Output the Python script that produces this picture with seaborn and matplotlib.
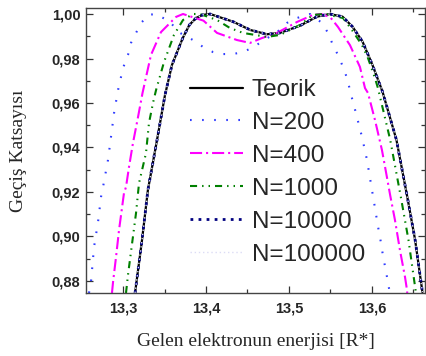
import matplotlib
matplotlib.use("Agg")
import matplotlib.pyplot as plt
import seaborn as sns
from matplotlib.ticker import FixedLocator, FuncFormatter, MultipleLocator

# ---------------- data ----------------
teorik_x = [13.3145, 13.3229, 13.3300, 13.3410, 13.3506, 13.3590, 13.3720, 13.3800, 13.3880,
            13.3960, 13.4050, 13.4330, 13.4535, 13.4735, 13.4890, 13.5130, 13.5337, 13.5490,
            13.5645, 13.5765, 13.5886, 13.6006, 13.6127, 13.6295, 13.6428, 13.6520, 13.6608]
teorik_y = [0.8746, 0.8984, 0.9209, 0.9434, 0.9636, 0.9771, 0.9892, 0.9951, 0.9982,
            0.9996, 1.0000, 0.9965, 0.9928, 0.9909, 0.9915, 0.9947, 0.9988, 1.0000,
            0.9988, 0.9943, 0.9876, 0.9771, 0.9651, 0.9434, 0.9173, 0.8984, 0.8750]

n200_x = [13.2590, 13.2614, 13.2651, 13.2699, 13.2735, 13.2759, 13.2819, 13.2855, 13.2892,
          13.2940, 13.3000, 13.3060, 13.3096, 13.3157, 13.3217, 13.3313, 13.3386, 13.3550,
          13.3687, 13.3843, 13.3964, 13.4084, 13.4205, 13.4325, 13.4446, 13.4566, 13.4710,
          13.4855, 13.4976, 13.5096, 13.5253, 13.5398, 13.5470, 13.5530, 13.5590, 13.5651,
          13.5699, 13.5735, 13.5771, 13.5807, 13.5843, 13.5880, 13.5940, 13.5964, 13.6012,
          13.6040, 13.6070, 13.6100, 13.6130, 13.6160, 13.6190, 13.6215]
n200_y = [0.8746, 0.8796, 0.8953, 0.9065, 0.9178, 0.9222, 0.9344, 0.9447, 0.9555,
          0.9658, 0.9757, 0.9816, 0.9870, 0.9915, 0.9960, 0.9996, 1.0000, 0.9970,
          0.9915, 0.9883, 0.9852, 0.9829, 0.9820, 0.9820, 0.9829, 0.9850, 0.9885,
          0.9918, 0.9960, 0.9982, 1.0000, 0.9960, 0.9915, 0.9860, 0.9816, 0.9762,
          0.9712, 0.9658, 0.9604, 0.9555, 0.9501, 0.9447, 0.9344, 0.9290, 0.9182,
          0.9120, 0.9050, 0.8990, 0.8920, 0.8860, 0.8800, 0.8746]

n400_x = [13.2867, 13.2880, 13.2916, 13.2952, 13.3012, 13.3036, 13.3072, 13.3120, 13.3181,
          13.3235, 13.3337, 13.3458, 13.3639, 13.3723, 13.3970, 13.4133, 13.4373, 13.4530,
          13.4675, 13.4855, 13.5096, 13.5289, 13.5386, 13.5494, 13.5590, 13.5735, 13.5855,
          13.5916, 13.5952, 13.6036, 13.6120, 13.6180, 13.6217, 13.6277, 13.6337, 13.6398,
          13.6422, 13.6425]
n400_y = [0.8746, 0.8796, 0.8908, 0.9029, 0.9196, 0.9222, 0.9312, 0.9420, 0.9537,
          0.9645, 0.9816, 0.9919, 0.9987, 1.0000, 0.9970, 0.9915, 0.9883, 0.9870,
          0.9892, 0.9915, 0.9964, 0.9996, 1.0000, 0.9987, 0.9942, 0.9860, 0.9762,
          0.9667, 0.9645, 0.9524, 0.9389, 0.9267, 0.9190, 0.9074, 0.8939, 0.8818,
          0.8760, 0.8746]

n1000_x = [13.3036, 13.3060, 13.3157, 13.3193, 13.3277, 13.3313, 13.3361, 13.3398, 13.3494,
           13.3614, 13.3723, 13.3843, 13.3928, 13.4133, 13.4289, 13.4446, 13.4735, 13.4892,
           13.5133, 13.5289, 13.5434, 13.5651, 13.5759, 13.5880, 13.5952, 13.6036, 13.6072,
           13.6220, 13.6350, 13.6440, 13.6530]
n1000_y = [0.8746, 0.8827, 0.9106, 0.9240, 0.9375, 0.9510, 0.9600, 0.9658, 0.9784,
           0.9906, 0.9973, 1.0000, 1.0000, 0.9973, 0.9937, 0.9915, 0.9897, 0.9906,
           0.9951, 0.9996, 1.0000, 0.9982, 0.9928, 0.9860, 0.9802, 0.9712, 0.9667,
           0.9434, 0.9173, 0.8984, 0.8746]

n10000_x = list(teorik_x)
n10000_y = list(teorik_y)
n100000_x = list(teorik_x)
n100000_y = list(teorik_y)

labels = ["Teorik", "N=200", "N=400", "N=1000", "N=10000", "N=100000"]
xticks = [13.3, 13.4, 13.5, 13.6]
yticks = [0.88, 0.90, 0.92, 0.94, 0.96, 0.98, 1.00]

# ---------------- styling ----------------
series = [
    (teorik_x, teorik_y, dict(color="black", lw=1.6, linestyle="-")),
    (n200_x, n200_y, dict(color="#2f3cff", lw=1.5, linestyle=(0, (0.8, 5.0)))),
    (n400_x, n400_y, dict(color="#ff00ff", lw=1.5, linestyle=(0, (5.8, 1.9, 1.0, 1.9)))),
    (n1000_x, n1000_y, dict(color="#008000", lw=1.5, linestyle=(0, (3.4, 2.4, 0.7, 2.4, 0.7, 2.4)))),
    (n10000_x, n10000_y, dict(color="#000080", lw=2.0, linestyle=(0, (1.0, 1.9)))),
    (n100000_x, n100000_y, dict(color="#dcdcf5", lw=1.0, linestyle=(0, (1.0, 2.0)))),
]

sns.set_style("ticks")
plt.rcParams["font.family"] = ["Liberation Sans", "DejaVu Sans"]

fig = plt.figure(figsize=(4.27, 3.56), dpi=100)
ax = fig.add_axes([86 / 427, 1 - 293 / 356, (425 - 86) / 427, (293 - 8) / 356])

for (xs, ys, st), lab in zip(series, labels):
    sns.lineplot(x=xs, y=ys, ax=ax, sort=False, estimator=None, label=lab, **st)

ax.set_xlim(13.2554, 13.6639)
ax.set_ylim(0.8746, 1.0027)

ax.xaxis.set_major_locator(FixedLocator(xticks))
ax.yaxis.set_major_locator(FixedLocator(yticks))
ax.xaxis.set_minor_locator(MultipleLocator(0.05))
ax.yaxis.set_minor_locator(MultipleLocator(0.01))
ax.xaxis.set_major_formatter(FuncFormatter(lambda v, p: f"{v:.1f}".replace(".", ",")))
ax.yaxis.set_major_formatter(FuncFormatter(lambda v, p: f"{v:.2f}".replace(".", ",")))

ax.tick_params(which="both", direction="in", top=True, right=True, labelsize=10.5, width=0.9, color="#333333")
ax.tick_params(which="major", length=5)
ax.tick_params(which="minor", length=3)
ax.tick_params(axis="x", pad=6)
ax.tick_params(axis="y", pad=4)
for lab in ax.get_xticklabels() + ax.get_yticklabels():
    lab.set_fontweight("bold")

for sp in ax.spines.values():
    sp.set_linewidth(1.0)
    sp.set_color("#444444")

ax.set_xlabel("Gelen elektronun enerjisi [R*]", fontfamily="Liberation Serif", fontsize=14, labelpad=13)
ax.set_ylabel("Geçiş Katsayısı", fontfamily="Liberation Serif", fontsize=14, labelpad=18)

leg = ax.legend(loc="upper left", bbox_to_anchor=((190 - 86) / 339, 1 - (79 - 8) / 285),
                frameon=False, fontsize=17.5, handlelength=2.2, handletextpad=0.35,
                labelspacing=0.45, borderpad=0, borderaxespad=0)

fig.savefig("out.png", dpi=100)
